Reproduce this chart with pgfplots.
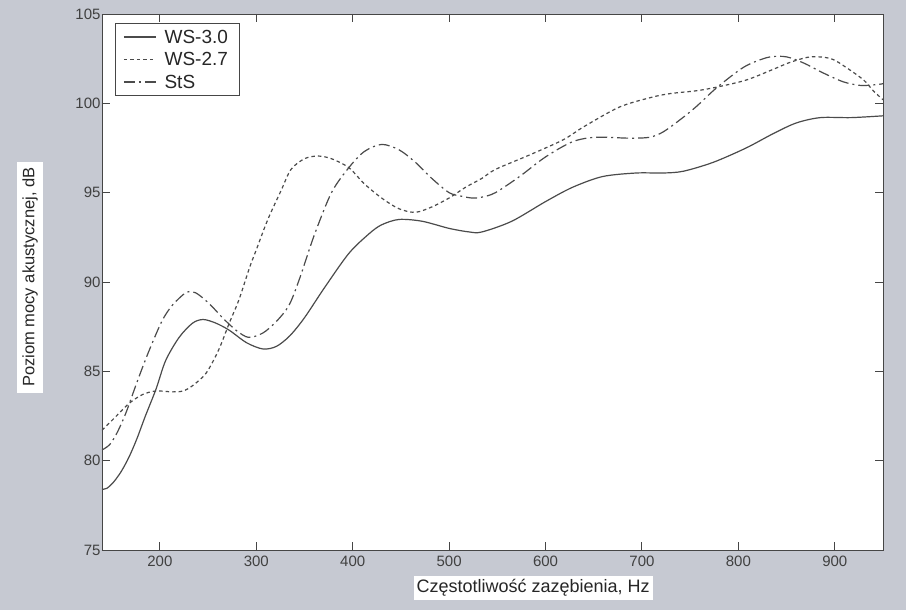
\documentclass[border=0pt]{standalone}
\usepackage{fontspec}
\setmainfont{Liberation Sans}
\usepackage{pgfplots}
\pgfplotsset{compat=1.18}
\definecolor{bg}{RGB}{198,201,210}
\definecolor{ln}{RGB}{75,75,75}
\definecolor{fr}{RGB}{70,70,70}
\begin{document}
\begin{tikzpicture}
\fill[bg] (0pt,0pt) rectangle (906pt,610pt);
\begin{axis}[
  at={(102pt,60pt)}, anchor=south west,
  scale only axis, width=781pt, height=536pt,
  xmin=140, xmax=950, ymin=75, ymax=105,
  xtick={200,300,...,900}, ytick={75,80,...,105},
  tick align=inside, major tick length=8pt,
  tick style={draw=fr, line width=0.9pt},
  axis line style={draw=fr, line width=0.9pt},
  axis background/.style={fill=white},
  /pgf/number format/assume math mode=true,
  ticklabel style={font=\fontsize{15}{18}\selectfont, text=black!75},
  xticklabel style={yshift=-2pt},
  yticklabel style={xshift=2pt},
  xlabel={Częstotliwość zazębienia, Hz},
  ylabel={Poziom mocy akustycznej, dB},
  xlabel style={at={(axis description cs:0.552,-0.0709)}, anchor=center, fill=white, inner sep=3pt, font=\fontsize{18}{21}\selectfont, text=black!85},
  ylabel style={at={(axis description cs:-0.0922,0.509)}, anchor=center, fill=white, inner xsep=6pt, inner ysep=5pt, font=\fontsize{16.5}{19}\selectfont, text=black!85},
  legend cell align=left,
  legend image code/.code={\draw[#1] (0pt,0pt) -- (32pt,0pt);},
  legend style={at={(axis description cs:0.0166,0.983)}, anchor=north west,
    draw=fr, line width=0.8pt, inner xsep=8pt, inner ysep=3.5pt,
    font=\fontsize{19}{22}\selectfont, text=black!85,
    nodes={inner sep=3pt, text height=13pt, text depth=1pt},
    row sep=2.5pt, column sep=5pt},
]
\addplot[ln, line width=1.2pt, smooth, tension=0.5] coordinates {
(140,78.4) (145,78.45) (152,78.8) (160,79.4) (168,80.2) (176,81.2) (185,82.5) (196,84.0)
(206,85.6) (220,86.9) (234,87.7) (245,87.9) (258,87.7) (272,87.3) (290,86.6)
(307,86.25) (321,86.4) (335,87.0) (350,88.0) (371,89.7) (396,91.6) (417,92.7)
(430,93.2) (448,93.5) (472,93.4) (500,93.0) (521,92.8) (534,92.8) (565,93.4)
(600,94.5) (628,95.3) (659,95.9) (694,96.1) (722,96.1) (743,96.2) (774,96.7)
(808,97.5) (836,98.3) (860,98.9) (885,99.2) (917,99.2) (950,99.3)};
\addlegendentry{WS-3.0}
\addplot[ln, line width=1.2pt, dash pattern=on 3.5pt off 3pt, smooth, tension=0.5] coordinates {
(140,81.7) (154,82.45) (168,83.2) (182,83.7) (196,83.9) (213,83.85) (224,83.9)
(234,84.2) (248,84.9) (261,86.2) (272,87.7) (282,89.0) (293,90.8) (300,91.8)
(312,93.5) (326,95.15) (336,96.3) (350,96.9) (364,97.05) (378,96.9) (396,96.4)
(412,95.5) (430,94.7) (448,94.1) (465,93.9) (482,94.2) (500,94.7) (517,95.3)
(534,95.8) (548,96.3) (583,97.1) (618,97.95) (640,98.7) (677,99.8) (711,100.35)
(730,100.55) (756,100.7) (777,100.9) (808,101.3) (836,101.9) (854,102.3)
(875,102.6) (896,102.5) (912,102.0) (930,101.3) (940,100.7) (950,100.2)};
\addlegendentry{WS-2.7}
\addplot[ln, line width=1.2pt, dash pattern=on 11pt off 4pt on 2pt off 4pt, smooth, tension=0.5] coordinates {
(140,80.6) (148,80.9) (156,81.6) (165,82.7) (175,84.2) (184,85.5) (193,86.7) (203,87.9) (213,88.7)
(227,89.4) (237,89.4) (251,88.8) (265,88.0) (279,87.3) (292,86.9) (307,87.15)
(321,87.8) (334,88.7) (345,90.2) (360,92.6) (378,95.0) (396,96.4) (412,97.3)
(430,97.7) (448,97.4) (465,96.7) (482,95.8) (500,95.0) (513,94.8) (524,94.7)
(534,94.75) (548,95.0) (573,95.9) (600,97.0) (628,97.85) (652,98.1) (687,98.05)
(708,98.1) (722,98.4) (740,99.1) (756,99.8) (777,100.85) (802,101.9) (816,102.3)
(833,102.6) (850,102.6) (868,102.25) (888,101.7) (909,101.2) (927,101.0)
(944,101.05) (950,101.1)};
\addlegendentry{StS}
\end{axis}
\end{tikzpicture}
\end{document}
